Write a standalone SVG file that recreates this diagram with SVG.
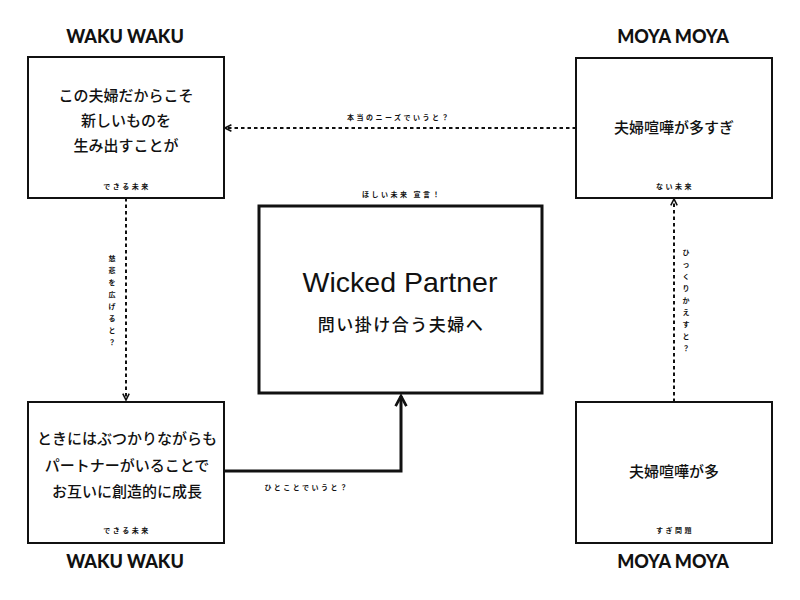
<svg xmlns="http://www.w3.org/2000/svg" width="800" height="600" viewBox="0 0 800 600">
<style>
.box{fill:#fff;stroke:#111;stroke-width:2}
.main{fill:#fff;stroke:#111;stroke-width:3}
.title{font-family:Lato,"Noto Sans",sans-serif;font-weight:900;font-size:18px;fill:#111;text-anchor:middle}
.jp{font-family:"Noto Sans CJK JP",sans-serif;font-weight:500;font-size:15px;fill:#111;text-anchor:middle}
.sm{font-family:"Noto Sans CJK JP",sans-serif;font-weight:700;font-size:7px;fill:#111;text-anchor:middle;letter-spacing:2.5px}
.vt{font-family:"Noto Sans CJK JP",sans-serif;font-weight:700;font-size:7px;fill:#111;text-anchor:middle}
.dash{fill:none;stroke:#111;stroke-width:2;stroke-dasharray:3.5 3}
.solid{fill:none;stroke:#111;stroke-width:3}
</style>
<defs>
<marker id="ah" viewBox="0 0 10 10" refX="9" refY="5" markerWidth="4" markerHeight="4" orient="auto" markerUnits="strokeWidth">
<path d="M1,1 L9,5 L1,9" fill="none" stroke="#111" stroke-width="2"/>
</marker>
<marker id="ahb" viewBox="0 0 10 10" refX="8.5" refY="5" markerWidth="4.5" markerHeight="4.5" orient="auto" markerUnits="strokeWidth">
<path d="M1,1 L8.5,5 L1,9" fill="none" stroke="#111" stroke-width="2"/>
</marker>
</defs>

<g id="connectors">
<line class="dash" x1="576" y1="128" x2="225" y2="128" marker-end="url(#ah)"/>
<line class="dash" x1="126" y1="198" x2="126" y2="400" marker-end="url(#ah)"/>
<line class="dash" x1="674" y1="402" x2="674" y2="199" marker-end="url(#ah)"/>
<polyline class="solid" points="224,471 401,471 401,396" marker-end="url(#ahb)"/>
<text class="sm" x="399" y="120">本当のニーズでいうと？</text>
<text class="sm" x="307" y="490">ひとことでいうと？</text>
<text class="vt" x="112"><tspan x="112" y="261">慈</tspan><tspan x="112" y="273">悲</tspan><tspan x="112" y="285">を</tspan><tspan x="112" y="297">広</tspan><tspan x="112" y="309">げ</tspan><tspan x="112" y="321">る</tspan><tspan x="112" y="333">と</tspan><tspan x="112" y="345">？</tspan></text>
<text class="vt" x="686"><tspan x="686" y="255">ひ</tspan><tspan x="686" y="267">っ</tspan><tspan x="686" y="279">く</tspan><tspan x="686" y="291">り</tspan><tspan x="686" y="303">か</tspan><tspan x="686" y="315">え</tspan><tspan x="686" y="327">す</tspan><tspan x="686" y="339">と</tspan><tspan x="686" y="351">？</tspan></text>
</g>

<g id="title-tl"><text class="title" x="125" y="43">WAKU WAKU</text></g>
<g id="title-tr"><text class="title" x="673" y="43">MOYA MOYA</text></g>
<g id="title-bl"><text class="title" x="125" y="568">WAKU WAKU</text></g>
<g id="title-br"><text class="title" x="673" y="568">MOYA MOYA</text></g>

<g id="node-tl">
<rect class="box" x="28" y="57" width="196" height="141"/>
<text class="jp" x="126" y="101">この夫婦だからこそ</text>
<text class="jp" x="126" y="126">新しいものを</text>
<text class="jp" x="126" y="151">生み出すことが</text>
<text class="sm" x="127" y="189">できる未来</text>
</g>

<g id="node-tr">
<rect class="box" x="576" y="58" width="196" height="140"/>
<text class="jp" x="674" y="133">夫婦喧嘩が多すぎ</text>
<text class="sm" x="675" y="189">ない未来</text>
</g>

<g id="node-center">
<text class="sm" x="402" y="197">ほしい未来 宣言！</text>
<rect class="main" x="259" y="206" width="283" height="187"/>
<text x="400" y="292" font-family="'Liberation Sans',Arial,sans-serif" font-size="28.5" fill="#111" text-anchor="middle">Wicked Partner</text>
<text class="jp" x="401" y="331" style="font-size:17px;letter-spacing:1.5px">問い掛け合う夫婦へ</text>
</g>

<g id="node-bl">
<rect class="box" x="28" y="402" width="196" height="141"/>
<text class="jp" x="127" y="444">ときにはぶつかりながらも</text>
<text class="jp" x="127" y="471">パートナーがいることで</text>
<text class="jp" x="127" y="497">お互いに創造的に成長</text>
<text class="sm" x="127" y="533">できる未来</text>
</g>

<g id="node-br">
<rect class="box" x="576" y="402" width="196" height="141"/>
<text class="jp" x="674" y="477">夫婦喧嘩が多</text>
<text class="sm" x="675" y="533">すぎ問題</text>
</g>
</svg>
